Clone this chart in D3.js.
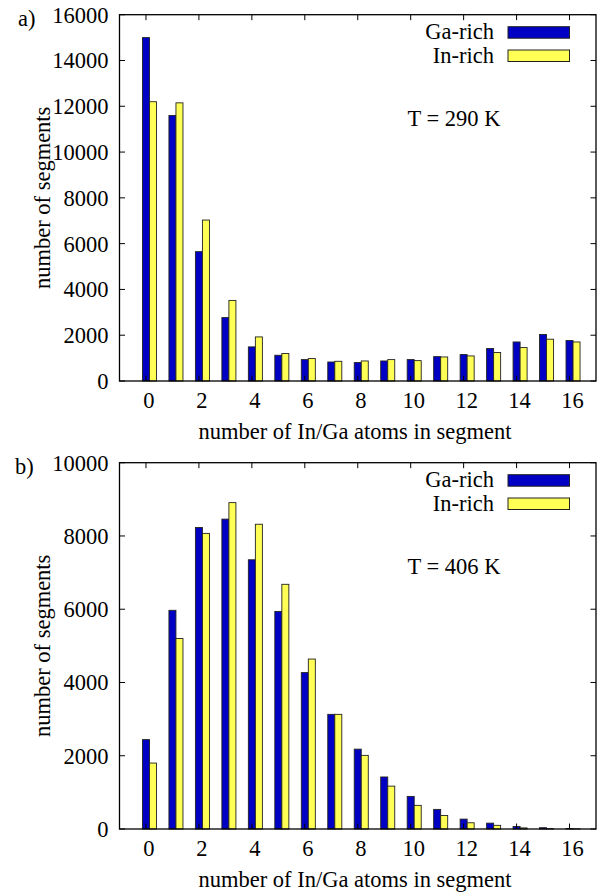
<!DOCTYPE html>
<html>
<head>
<meta charset="utf-8">
<script src="https://cdn.jsdelivr.net/npm/d3@7"></script>
<style>
  body { margin: 0; background: #fff; }
  svg { display: block; }
  text { font-family: "Liberation Serif", "Times New Roman", serif; fill: #000; }
</style>
</head>
<body>
<div id="chart"></div>
<script>
const atoms = d3.range(0, 17);
const xTicks = [0, 2, 4, 6, 8, 10, 12, 14, 16];
const seriesNames = ['Ga-rich', 'In-rich'];

// panel a) T = 290 K
const gaRich290 = [15000, 11600, 5650, 2770, 1490, 1125, 935, 830, 805, 875, 935, 1065, 1155, 1420, 1705, 2030, 1770];
const inRich290 = [12200, 12150, 7030, 3520, 1925, 1200, 980, 860, 875, 935, 890, 1050, 1095, 1245, 1460, 1825, 1705];
const yTicks290 = [0, 2000, 4000, 6000, 8000, 10000, 12000, 14000, 16000];

// panel b) T = 406 K
const gaRich406 = [2440, 5970, 8230, 8460, 7350, 5940, 4270, 3130, 2180, 1420, 890, 535, 270, 160, 70, 35, 12];
const inRich406 = [1800, 5200, 8070, 8910, 8320, 6680, 4640, 3130, 2010, 1170, 645, 370, 170, 100, 30, 10, 5];
const yTicks406 = [0, 2000, 4000, 6000, 8000, 10000];

const W = 598, H = 892;
const colors = ['#0000c4', '#ffff55'];
const fontSize = 22.5;

const svg = d3.select('#chart').append('svg')
    .attr('width', W)
    .attr('height', H);
svg.append('rect').attr('width', W).attr('height', H).attr('fill', '#fff');

function drawPanel(opts) {
    const left = 119.5, right = 596;
    const top = opts.top, bottom = opts.bottom;
    const x = d3.scaleLinear().domain([-1, 17]).range([left, right]);
    const y = d3.scaleLinear().domain([0, opts.yMax]).range([bottom, top]);
    const bw = 0.265;
    const g = svg.append('g');

    // bars
    [opts.ga, opts.inr].forEach((vals, s) => {
        g.append('g').selectAll('rect')
            .data(atoms)
            .join('rect')
            .attr('x', d => x(d - bw / 2 + s * bw))
            .attr('y', d => y(vals[d]))
            .attr('width', x(bw) - x(0))
            .attr('height', d => y(0) - y(vals[d]))
            .attr('fill', colors[s])
            .attr('stroke', '#222')
            .attr('stroke-width', 0.9);
    });

    // frame
    g.append('rect')
        .attr('x', left).attr('y', top)
        .attr('width', right - left).attr('height', bottom - top)
        .attr('fill', 'none')
        .attr('stroke', '#000')
        .attr('stroke-width', 1.3);

    const tl = 5.5;
    // y ticks (left + mirrored right)
    opts.yTicks.forEach(v => {
        g.append('line').attr('x1', left).attr('x2', left + tl)
            .attr('y1', y(v)).attr('y2', y(v)).attr('stroke', '#000');
        g.append('line').attr('x1', right).attr('x2', right - tl)
            .attr('y1', y(v)).attr('y2', y(v)).attr('stroke', '#000');
        g.append('text')
            .attr('x', 108.5)
            .attr('y', y(v) + 8)
            .attr('text-anchor', 'end')
            .style('font-size', fontSize + 'px')
            .text(v);
    });

    // x ticks (bottom + mirrored top)
    xTicks.forEach(v => {
        g.append('line').attr('x1', x(v)).attr('x2', x(v))
            .attr('y1', bottom).attr('y2', bottom - tl).attr('stroke', '#000');
        g.append('line').attr('x1', x(v)).attr('x2', x(v))
            .attr('y1', top).attr('y2', top + tl).attr('stroke', '#000');
        g.append('text')
            .attr('x', x(v) + 3)
            .attr('y', bottom + 27)
            .attr('text-anchor', 'middle')
            .style('font-size', fontSize + 'px')
            .text(v);
    });

    // axis titles
    g.append('text')
        .attr('x', 355)
        .attr('y', bottom + 58)
        .attr('text-anchor', 'middle')
        .style('font-size', fontSize + 'px')
        .text('number of In/Ga atoms in segment');
    g.append('text')
        .attr('transform', `translate(50,${(top + bottom) / 2}) rotate(-90)`)
        .attr('text-anchor', 'middle')
        .style('font-size', fontSize + 'px')
        .text('number of segments');

    // panel tag
    g.append('text')
        .attr('x', opts.tagX)
        .attr('y', top + 11.5)
        .style('font-size', fontSize + 'px')
        .text(opts.tag);

    // legend
    seriesNames.forEach((name, i) => {
        const ly = top + 24.5 + i * 23.3;
        g.append('text')
            .attr('x', 494)
            .attr('y', ly)
            .attr('text-anchor', 'end')
            .style('font-size', fontSize + 'px')
            .text(name);
        g.append('rect')
            .attr('x', 508).attr('y', ly - 12.5)
            .attr('width', 61.5).attr('height', 11.5)
            .attr('fill', colors[i])
            .attr('stroke', '#222')
            .attr('stroke-width', 1);
    });

    // temperature label
    g.append('text')
        .attr('x', 454)
        .attr('y', top + 111.3)
        .attr('text-anchor', 'middle')
        .style('font-size', fontSize + 'px')
        .text(opts.temp);
}

drawPanel({ top: 14.7, bottom: 381, yMax: 16000, yTicks: yTicks290,
    ga: gaRich290, inr: inRich290, tag: 'a)', tagX: 18, temp: 'T = 290 K' });
drawPanel({ top: 462.7, bottom: 829, yMax: 10000, yTicks: yTicks406,
    ga: gaRich406, inr: inRich406, tag: 'b)', tagX: 15, temp: 'T = 406 K' });
</script>
</body>
</html>
